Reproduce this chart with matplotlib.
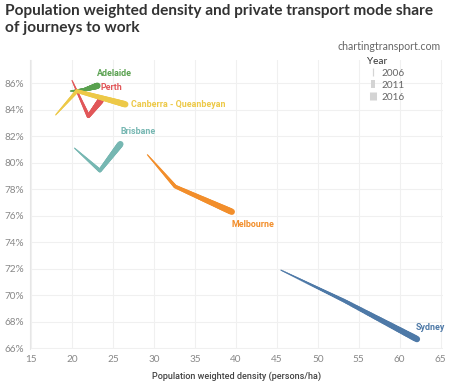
import numpy as np
import matplotlib
matplotlib.use("Agg")
from matplotlib import pyplot as plt
from matplotlib.collections import LineCollection
from matplotlib.lines import Line2D
from matplotlib.ticker import FuncFormatter

plt.rcParams['font.family'] = ['Lato', 'DejaVu Sans']

# data: density (persons/ha) and private mode share (%) for 2006, 2011, 2016
years = [2006, 2011, 2016]
cities = ["Sydney", "Melbourne", "Brisbane", "Adelaide", "Perth", "Canberra - Queanbeyan"]
density = {
    "Sydney": [45.5, 53.2, 62.1],
    "Melbourne": [29.2, 32.6, 39.5],
    "Brisbane": [20.3, 23.4, 25.9],
    "Adelaide": [19.8, 21.5, 23.1],
    "Perth": [20.0, 22.0, 23.5],
    "Canberra - Queanbeyan": [18.0, 20.6, 26.5],
}
share = {
    "Sydney": [71.9, 69.6, 66.7],
    "Melbourne": [80.6, 78.2, 76.3],
    "Brisbane": [81.1, 79.4, 81.4],
    "Adelaide": [85.4, 85.5, 85.8],
    "Perth": [86.2, 83.5, 84.7],
    "Canberra - Queanbeyan": [83.6, 85.4, 84.4],
}
colors = {
    "Sydney": "#4e79a7",
    "Melbourne": "#f28e2b",
    "Brisbane": "#76b7b2",
    "Adelaide": "#59a14f",
    "Perth": "#e15759",
    "Canberra - Queanbeyan": "#edc948",
}
# label offsets from the 2016 point, in points
label_off = {
    "Sydney": (-1, 8.5),
    "Melbourne": (0, -9),
    "Brisbane": (0, 9),
    "Adelaide": (0, 9),
    "Perth": (0, 9.4),
    "Canberra - Queanbeyan": (4, 0),
}
widths = [0.8, 2.6, 4.6]

fig = plt.figure(figsize=(4.49, 3.84), dpi=100)
ax = fig.add_axes([0.067, 0.091, 0.92, 0.753])


def tapered(ax, x, y, w, color, n=30):
    segs, lws = [], []
    for i in range(len(x) - 1):
        t = np.linspace(0, 1, n + 1)
        xs = x[i] + (x[i + 1] - x[i]) * t
        ys = y[i] + (y[i + 1] - y[i]) * t
        ws = w[i] + (w[i + 1] - w[i]) * t
        for j in range(n):
            segs.append([(xs[j], ys[j]), (xs[j + 1], ys[j + 1])])
            lws.append((ws[j] + ws[j + 1]) / 2)
    lc = LineCollection(segs, linewidths=lws, colors=color, capstyle='round', joinstyle='round')
    ax.add_collection(lc)


for c in cities:
    tapered(ax, density[c], share[c], widths, colors[c])
    ax.annotate(c, (density[c][-1], share[c][-1]), xytext=label_off[c], textcoords='offset points',
                ha='left', va='center', color=colors[c], fontsize=6.4, fontweight='bold',
                family=['Roboto', 'DejaVu Sans'])

ax.set_xlim(14.88, 65.3)
ax.set_ylim(65.95, 87.75)
ax.set_xticks(np.arange(15, 66, 5))
ax.set_yticks(np.arange(66, 87, 2))
ax.yaxis.set_major_formatter(FuncFormatter(lambda v, p: f"{v:.0f}%"))
ax.grid(color='#f0f0f0', linewidth=0.8)
ax.set_axisbelow(True)
for s in ['top', 'right', 'bottom']:
    ax.spines[s].set_visible(False)
ax.spines['left'].set_color('#e6e6e6')
ax.tick_params(length=0, colors='#888888', labelsize=7.2, pad=4)
ax.set_xlabel("Population weighted density (persons/ha)", fontsize=6.5, color='#444444',
              fontweight='medium', family=['Roboto', 'DejaVu Sans'], labelpad=6)

fig.text(0.012, 0.99, "Population weighted density and private transport mode share\nof journeys to work",
         ha='left', va='top', fontsize=11.1, fontweight='bold', color='#333333', linespacing=1.3)
fig.text(0.982, 0.88, "chartingtransport.com", ha='right', va='center', fontsize=7.6, color='#666666')

handles = [Line2D([], [], color='#d4d4d4', marker='|', linestyle='none', markersize=6,
                  markeredgewidth=w * 1.1) for w in widths]
leg = fig.legend(handles, [str(y) for y in years], title="Year", loc='upper left',
                 bbox_to_anchor=(0.797, 0.876), frameon=False, fontsize=7.2, title_fontsize=7.2,
                 handlelength=1.2, handletextpad=0.3, labelspacing=0.3, alignment='left')
leg.get_title().set_color('#333333')
for t in leg.get_texts():
    t.set_color('#666666')

fig.savefig("out.png", dpi=100)
